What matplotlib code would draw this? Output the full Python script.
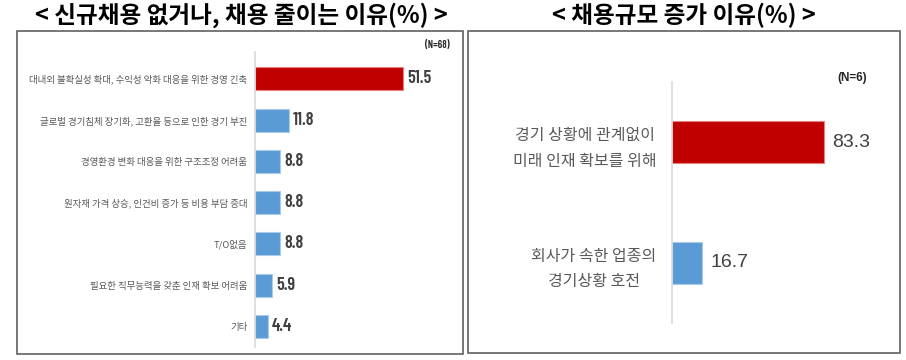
import matplotlib
matplotlib.use('Agg')
import matplotlib.pyplot as plt
from matplotlib.patches import Rectangle

KR = ['Noto Sans CJK KR', 'DejaVu Sans']
NUM = ['Barlow Condensed', 'Liberation Sans', 'DejaVu Sans']
plt.rcParams['font.family'] = KR

# left panel: reasons for no / fewer new hires (N=68)
left_title = '< 신규채용 없거나, 채용 줄이는 이유(%) >'
left_labels = ['대내외 불확실성 확대, 수익성 악화 대응을 위한 경영 긴축',
               '글로벌 경기침체 장기화, 고환율 등으로 인한 경기 부진',
               '경영환경 변화 대응을 위한 구조조정 어려움',
               '원자재 가격 상승, 인건비 증가 등 비용 부담 증대',
               'T/O없음',
               '필요한 직무능력을 갖춘 인재 확보 어려움',
               '기타']
left_values = [51.5, 11.8, 8.8, 8.8, 8.8, 5.9, 4.4]

# right panel: reasons for larger hiring (N=6)
right_title = '< 채용규모 증가 이유(%) >'
right_labels = ['경기 상황에 관계없이\n미래 인재 확보를 위해',
                '회사가 속한 업종의\n경기상황 호전']
right_values = [83.3, 16.7]

RED = '#C00000'
BLUE = '#5B9BD5'
LBL = '#595959'
VAL = '#404040'

W, H = 906, 360
fig = plt.figure(figsize=(W / 100, H / 100), dpi=100)

def px(x0, y0, x1, y1):
    return [x0 / W, 1 - y1 / H, (x1 - x0) / W, (y1 - y0) / H]

# frames
for x0, y0, x1, y1 in [(17, 31, 463, 354), (468, 31, 900, 353)]:
    fig.patches.append(Rectangle((x0 / W, 1 - y1 / H), (x1 - x0) / W, (y1 - y0) / H,
                                 transform=fig.transFigure, fill=False,
                                 ec='#606060', lw=1.2))

fig.text(241 / W, 1 - 15 / H, left_title, ha='center', va='center',
         fontsize=17, fontweight='bold', color='black')
fig.text(684 / W, 1 - 15 / H, right_title, ha='center', va='center',
         fontsize=17, fontweight='bold', color='black')

def style(ax):
    for s in ['top', 'right', 'bottom']:
        ax.spines[s].set_visible(False)
    ax.spines['left'].set_color('#d9d9d9')
    ax.spines['left'].set_linewidth(1.2)
    ax.set_xticks([])
    ax.tick_params(axis='y', length=0)

# left chart
ax1 = fig.add_axes(px(255, 52, 456, 347))
ypos = list(range(len(left_values)))
cols = [RED] + [BLUE] * (len(left_values) - 1)
edges = ['#e88080'] + ['#a9cbea'] * (len(left_values) - 1)
ax1.barh(ypos, left_values, height=0.56, color=cols, edgecolor=edges, lw=0.8)
ax1.set_xlim(0, 70)
ax1.set_ylim(6.5, -0.65)
style(ax1)
ax1.set_yticks(ypos)
ax1.set_yticklabels(left_labels, fontsize=6.8, color=LBL)
ax1.tick_params(axis='y', pad=5.5)
for y, v in zip(ypos, left_values):
    ax1.annotate(f'{v:.1f}', (v, y), xytext=(3, 0), textcoords='offset points',
                 ha='left', va='center', fontsize=13, fontweight=600,
                 color=VAL, family=NUM)
fig.text(450 / W, 1 - 45 / H, '(N=68)', ha='right', va='center',
         fontsize=7.5, fontweight=600, color='#262626', family=NUM)

# right chart
ax2 = fig.add_axes(px(672, 82, 891, 323))
ypos2 = list(range(len(right_values)))
ax2.barh(ypos2, right_values, height=0.35, color=[RED, BLUE],
         edgecolor=['#e88080', '#a9cbea'], lw=0.8)
ax2.set_xlim(0, 120)
ax2.set_ylim(1.5, -0.5)
style(ax2)
ax2.set_yticks(ypos2)
ax2.set_yticklabels(right_labels, fontsize=11.5, color=LBL,
                    multialignment='center', linespacing=1.65)
ax2.tick_params(axis='y', pad=11)
for y, v in zip(ypos2, right_values):
    ax2.annotate(f'{v:.1f}', (v, y), xytext=(6, 0), textcoords='offset points',
                 ha='left', va='center', fontsize=14, color=VAL,
                 family=['Liberation Sans', 'DejaVu Sans'])
fig.text(852 / W, 1 - 78 / H, '(N=6)', ha='center', va='center',
         fontsize=8.5, fontweight='bold', color='#262626',
         family=['Liberation Sans', 'DejaVu Sans'])

fig.savefig('out.png', dpi=100)
